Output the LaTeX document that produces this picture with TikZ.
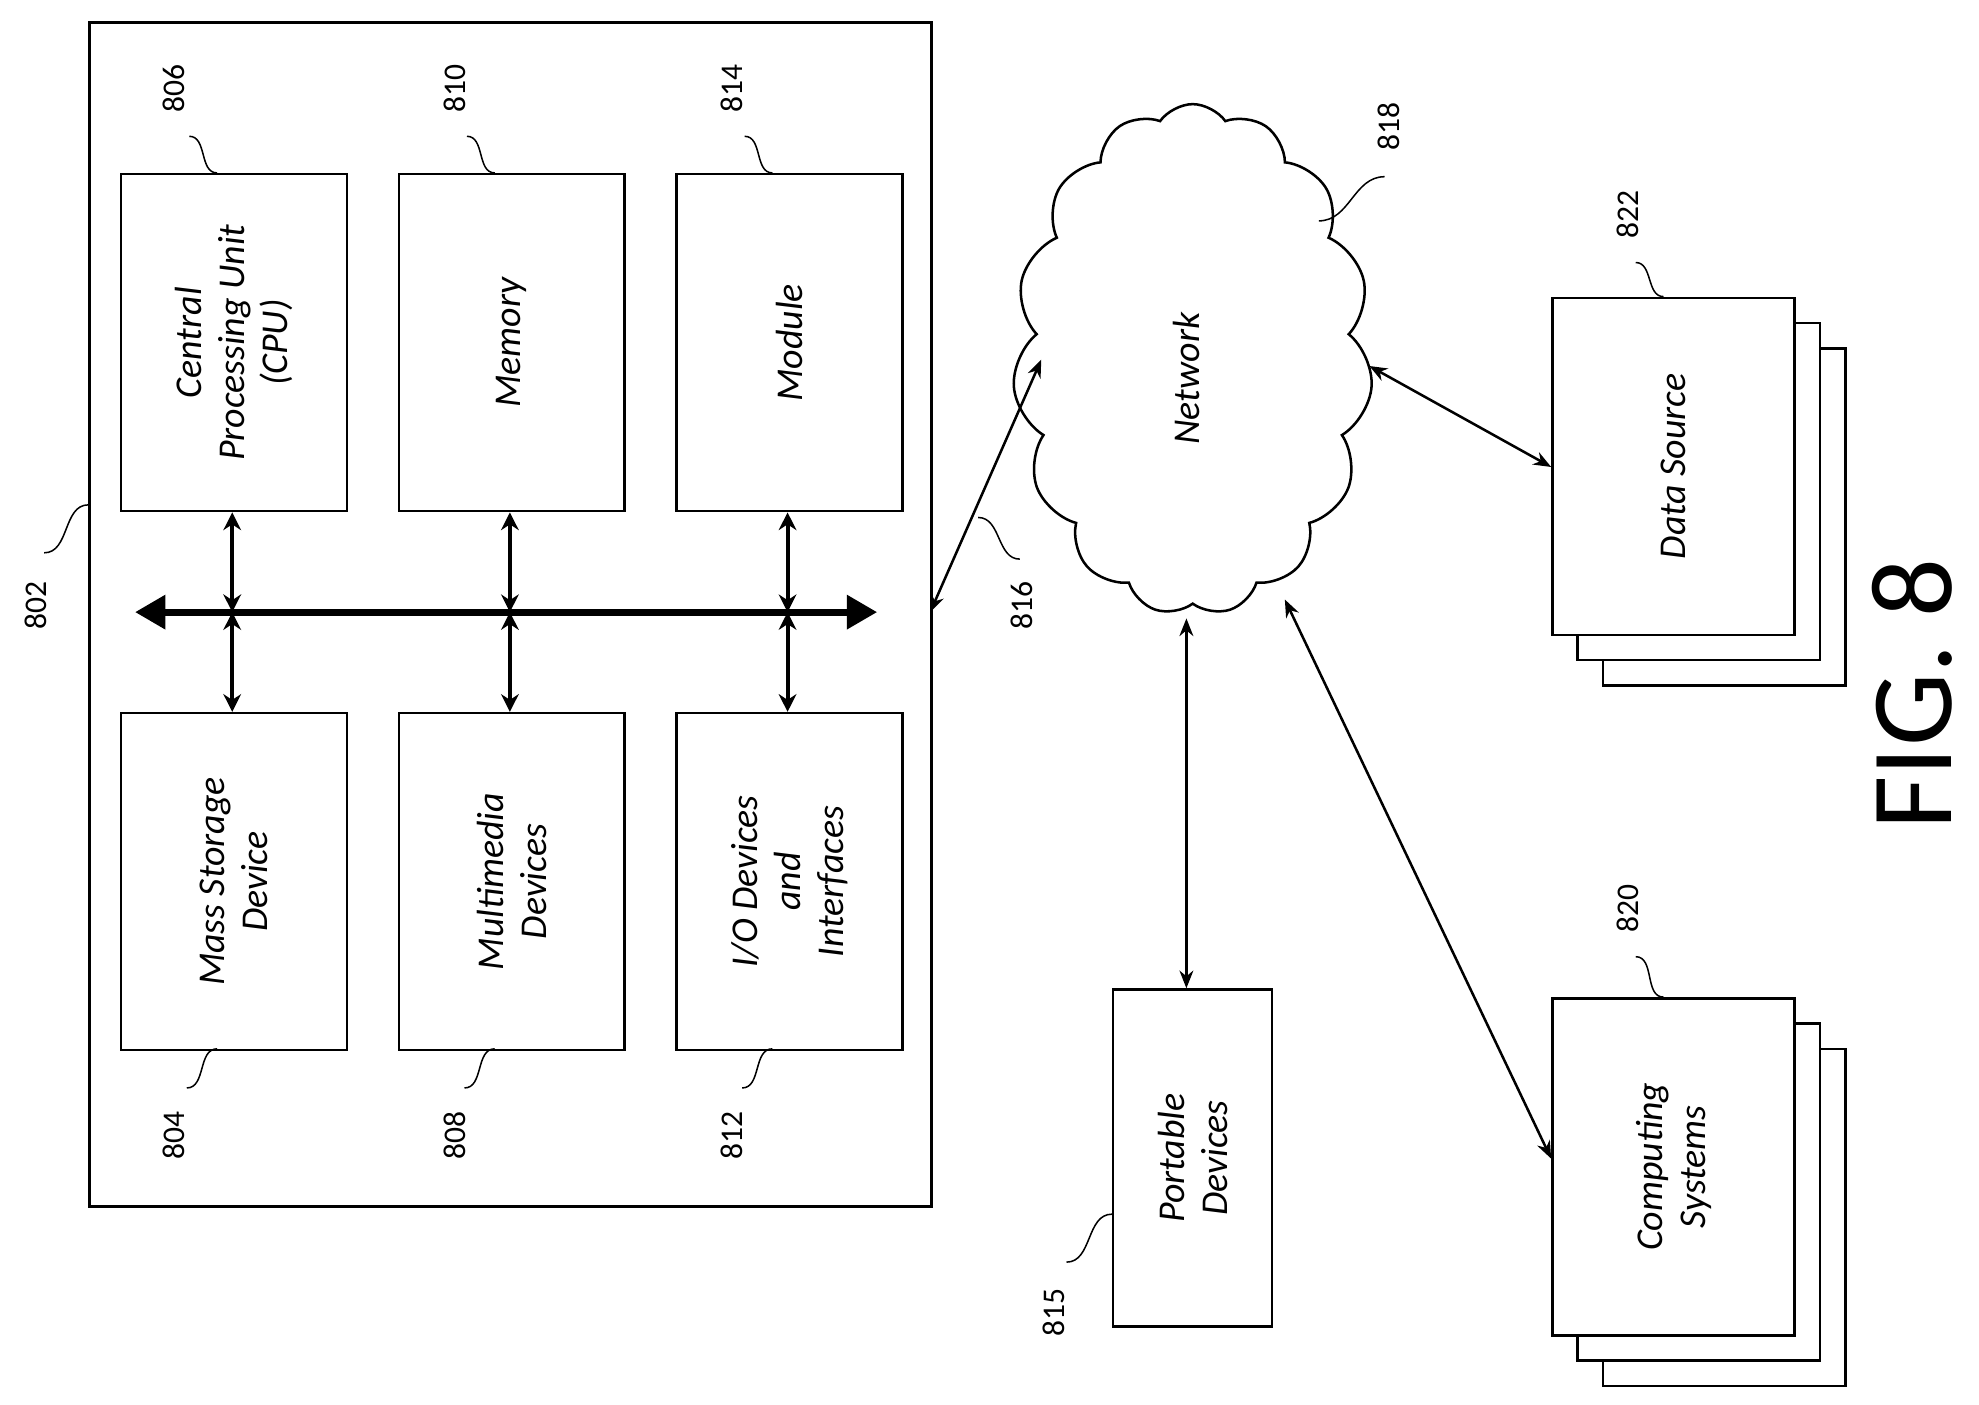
\documentclass[tikz,border=0pt]{standalone}
\usepackage{fontspec}
\setmainfont{Carlito}
\usetikzlibrary{shapes.symbols,arrows.meta}
\begin{document}
\begin{tikzpicture}[x=1pt,y=-1pt,
  box/.style={draw,line width=2pt,fill=white},
  lbl/.style={font=\fontsize{30}{34}\selectfont\itshape,rotate=90,align=center},
  num/.style={font=\fontsize{25}{28}\selectfont,rotate=90},
  lead/.style={line width=1.2pt},
  arr/.style={line width=2pt,{Stealth[length=14pt,width=11pt]}-{Stealth[length=14pt,width=11pt]}},
  barr/.style={line width=3.2pt,{Stealth[length=14pt,width=14pt]}-{Stealth[length=14pt,width=14pt]}}]
\useasboundingbox (0,0) rectangle (1568,1113);
\node[box,minimum width=667pt,minimum height=938pt,anchor=north west] (outer) at (70,17) {};
\foreach \n/\x/\y in {cpu/95/137,mem/315/137,mod/535/137,mas/95/564,mul/315/564,io/535/564}
  \node[box,minimum width=179pt,minimum height=267pt,anchor=north west] (\n) at (\x,\y) {};
\node[lbl] at (cpu.center) {Central\\Processing Unit\\(CPU)};
\node[lbl] at (mem.center) {Memory};
\node[lbl] at (mod.center) {Module};
\node[lbl] at (mas.center) {Mass Storage\\Device};
\node[lbl] at (mul.center) {Multimedia\\Devices};
\node[lbl] at (io.center) {I/O Devices\\and\\Interfaces};
\coordinate (bl) at (107,485); \coordinate (br) at (695,485);
\draw[line width=5.5pt,{Triangle[length=24pt,width=26pt]}-{Triangle[length=24pt,width=26pt]}] (bl) -- (br);
\foreach \n/\m/\x in {cpu/mas/184,mem/mul/404,mod/io/624}{
  \coordinate (t\n) at (\x,485);
  \draw[barr] (\n.south -| t\n) -- (t\n);
  \draw[barr] (t\n) -- (\m.north -| t\n);}
\node[num] at (138,70) {806}; \draw[lead] (150,108) to[out=0,in=180] (172,137);
\node[num] at (360,70) {810}; \draw[lead] (370,108) to[out=0,in=180] (392,137);
\node[num] at (580,70) {814}; \draw[lead] (590,108) to[out=0,in=180] (612,137);
\node[num] at (138,900) {804}; \draw[lead] (148,862) to[out=0,in=180] (172,831);
\node[num] at (360,900) {808}; \draw[lead] (368,862) to[out=0,in=180] (392,831);
\node[num] at (580,900) {812}; \draw[lead] (588,862) to[out=0,in=180] (612,831);
\node[num] at (28,480) {802}; \draw[lead] (35,438) to[out=0,in=180] (70,400);
\node[cloud,draw,line width=2pt,cloud puffs=15,cloud puff arc=110,aspect=0.7,minimum width=285pt,minimum height=405pt] (net) at (945,285) {};
\node[lbl] at (940,300) {Network};
\node[num] at (1100,100) {818}; \draw[lead] (1045,175) to[out=0,in=180] (1097,140);
\coordinate (oe) at (737,485);
\draw[arr] (oe) -- (825,285);
\node[num] at (810,480) {816}; \draw[lead] (775,410) to[out=0,in=180] (808,443);
\foreach \d in {40,20,0}{\node[box,minimum width=192pt,minimum height=267pt,anchor=north west] (ds\d) at (1229+\d,235+\d) {};}
\node[lbl] at (ds0.center) {Data Source};
\node[num] at (1290,170) {822}; \draw[lead] (1296,208) to[out=0,in=180] (1318,235);
\draw[arr] (1085,290) -- (ds0.west |- 0,370);
\foreach \d in {40,20,0}{\node[box,minimum width=192pt,minimum height=267pt,anchor=north west] (cs\d) at (1229+\d,790+\d) {};}
\node[lbl] at (cs0.center) {Computing\\Systems};
\node[num] at (1290,720) {820}; \draw[lead] (1296,758) to[out=0,in=180] (1318,790);
\draw[arr] (1018,475) -- (cs0.west |- 0,918);
\node[box,minimum width=126pt,minimum height=267pt,anchor=north west] (pd) at (881,783) {};
\node[lbl] at (pd.center) {Portable\\Devices};
\draw[arr] (940,490) -- (pd.north -| 940,0);
\node[num] at (835,1040) {815}; \draw[lead] (845,1000) to[out=0,in=180] (881,962);
\node[rotate=90,font=\fontsize{92}{100}\selectfont] at (1515,550) {FIG. 8};
\end{tikzpicture}
\end{document}
